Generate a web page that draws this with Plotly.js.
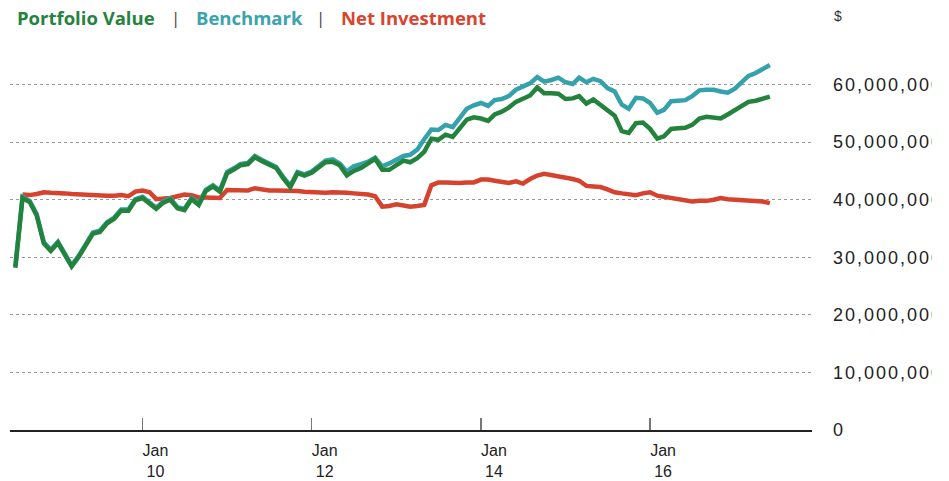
<!DOCTYPE html>
<html>
<head>
<meta charset="utf-8">
<script src="https://cdn.plot.ly/plotly-3.0.1.min.js"></script>
<style>
  html, body { margin: 0; padding: 0; background: #fff; }
  #clip { width: 932px; height: 481px; overflow: hidden; }
  #chart { width: 949px; height: 481px; }
  .ytick text { letter-spacing: 2px; }
</style>
</head>
<body>
<div id="clip"><div id="chart"></div></div>
<script>
// Monthly observations, July 2008 – June 2017 (values in millions of $)
const startYear = 2008, startMonth = 7, nMonths = 108;
const months = [];
for (let i = 0; i < nMonths; i++) {
  const m0 = startMonth - 1 + i;
  const y = startYear + Math.floor(m0 / 12);
  const m = (m0 % 12) + 1;
  months.push(y + '-' + String(m).padStart(2, '0') + '-01');
}

const portfolioValue = [
  28.2,40.3,39.6,37.3,32.4,31.1,32.5,30.5,28.4,30.1,
  32.2,34.1,34.4,35.9,36.7,38.1,38.1,39.9,40.3,39.4,
  38.4,39.5,40.0,38.5,38.2,40.1,39.1,41.5,42.3,41.4,
  44.6,45.3,46.0,46.2,47.4,46.7,46.1,45.5,43.7,42.2,
  44.6,44.2,44.7,45.6,46.5,46.6,46.0,44.2,45.0,45.5,
  46.2,47.1,45.2,45.2,46.0,46.8,46.5,47.2,48.3,50.6,
  50.4,51.3,50.9,52.4,53.9,54.3,54.1,53.7,54.8,55.3,
  56.0,57.0,57.6,58.1,59.5,58.5,58.5,58.4,57.5,57.6,
  58.0,56.7,57.4,56.4,55.5,54.6,51.9,51.6,53.3,53.4,
  52.3,50.6,51.0,52.3,52.4,52.5,53.0,54.1,54.4,54.2,
  54.1,54.8,55.5,56.3,57.0,57.2,57.5,57.9
];

const benchmark = [
  28.4,40.5,39.8,37.5,32.6,31.3,32.7,30.7,28.6,30.3,
  32.4,34.3,34.6,36.1,36.9,38.3,38.3,40.1,40.5,39.6,
  38.6,39.7,40.2,38.7,38.4,40.3,39.3,41.7,42.5,41.6,
  44.8,45.5,46.2,46.4,47.6,46.9,46.3,45.7,43.9,42.4,
  44.8,44.4,44.9,45.8,46.8,47.0,46.3,44.9,45.8,46.2,
  46.6,47.3,45.8,46.3,47.0,47.6,47.8,48.7,50.5,52.2,
  52.1,53.0,52.6,54.2,55.8,56.4,56.8,56.3,57.3,57.5,
  58.0,59.1,59.7,60.2,61.3,60.5,60.8,61.2,60.4,60.1,
  61.2,60.4,61.0,60.6,59.4,58.8,56.5,55.8,57.7,57.6,
  56.8,55.1,55.6,57.1,57.2,57.3,58.0,59.0,59.1,59.1,
  58.8,58.6,59.3,60.4,61.5,62.0,62.7,63.4
];

const netInvestment = [
  null,40.9,40.8,41.0,41.3,41.2,41.2,41.1,41.0,40.9,
  40.8,40.7,40.8,40.7,40.7,40.8,40.6,41.4,41.6,41.3,
  40.1,40.2,40.3,40.6,40.9,40.8,40.4,40.4,40.3,40.3,
  41.7,41.7,41.7,41.6,42.0,41.7,41.6,41.6,41.6,41.6,
  41.5,41.4,41.3,41.2,41.2,41.3,41.3,41.2,41.1,41.0,
  40.9,40.6,38.8,38.9,39.2,39.0,38.8,38.9,39.1,42.5,
  43.0,43.0,42.9,42.9,43.0,43.0,43.5,43.5,43.3,43.0,
  42.9,43.2,42.8,43.6,44.2,44.5,44.3,44.1,43.9,43.6,
  43.3,42.4,42.3,42.2,41.8,41.3,41.1,40.9,40.8,41.1,
  41.3,40.7,40.5,40.4,40.1,39.9,39.7,39.8,39.8,40.0,
  40.3,40.1,40.0,40.0,39.9,39.8,39.7,39.4
];

const xTickVals = ['2010-01-01','2012-01-01','2014-01-01','2016-01-01'];
const xTickText = ['Jan<br>10','Jan<br>12','Jan<br>14','Jan<br>16'];
const yTickVals = [0,10,20,30,40,50,60];

const seriesNames = ['Portfolio Value','Benchmark','Net Investment'];
const colors = { pv: '#23833c', bm: '#35a1aa', ni: '#d5432e' };

const toDollars = a => a.map(v => v === null ? null : v * 1e6);

const traces = [
  { x: months, y: toDollars(netInvestment), name: seriesNames[2], type: 'scatter', mode: 'lines',
    line: { color: colors.ni, width: 4.5 }, hoverinfo: 'skip' },
  { x: months, y: toDollars(benchmark), name: seriesNames[1], type: 'scatter', mode: 'lines',
    line: { color: colors.bm, width: 4.5 }, hoverinfo: 'skip' },
  { x: months, y: toDollars(portfolioValue), name: seriesNames[0], type: 'scatter', mode: 'lines',
    line: { color: colors.pv, width: 4.5 }, hoverinfo: 'skip' }
];

const L = 10, R = 137, T = 27, B = 51, W = 949, H = 481;
const pw = W - L - R, ph = H - T - B;
const px = v => (v - L) / pw;
const py = v => (H - B - v) / ph;

const legendFont = { family: '"Open Sans", sans-serif', size: 18.5, weight: 700 };
const annotations = [
  { text: seriesNames[0], x: px(15), y: py(18), xanchor: 'left', yanchor: 'middle',
    font: Object.assign({ color: '#24843d' }, legendFont) },
  { text: '|', x: px(175), y: py(18), xanchor: 'center', yanchor: 'middle',
    font: { family: '"Open Sans", sans-serif', size: 17, color: '#444' } },
  { text: seriesNames[1], x: px(194), y: py(18), xanchor: 'left', yanchor: 'middle',
    font: Object.assign({ color: '#39a4ac' }, legendFont) },
  { text: '|', x: px(320), y: py(18), xanchor: 'center', yanchor: 'middle',
    font: { family: '"Open Sans", sans-serif', size: 17, color: '#444' } },
  { text: seriesNames[2], x: px(339), y: py(18), xanchor: 'left', yanchor: 'middle',
    font: Object.assign({ color: '#d8442f' }, legendFont) },
  { text: '$', x: px(832), y: py(16), xanchor: 'left', yanchor: 'middle',
    font: { family: '"Liberation Sans", Arial, sans-serif', size: 14, color: '#333' } }
].map(a => Object.assign({ xref: 'paper', yref: 'paper', showarrow: false }, a));

const layout = {
  width: W, height: H,
  margin: { l: L, r: R, t: T, b: B, pad: 0 },
  paper_bgcolor: '#fff', plot_bgcolor: '#fff',
  showlegend: false,
  font: { family: '"Liberation Sans", Arial, sans-serif', size: 17, color: '#222' },
  xaxis: {
    type: 'date',
    range: ['2008-06-08', '2017-11-30'],
    tickvals: xTickVals, ticktext: xTickText,
    ticks: 'inside', ticklen: 12, tickwidth: 1.5, tickcolor: '#777',
    ticklabelshift: 13, ticklabelstandoff: 5,
    showgrid: false, zeroline: false,
    showline: true, linecolor: '#222', linewidth: 1.5,
    tickfont: { size: 16, color: '#222' }
  },
  yaxis: {
    side: 'right',
    range: [0, 70e6],
    tickvals: yTickVals.map(v => v * 1e6),
    tickformat: ',d',
    ticks: '', ticklabelstandoff: 20,
    showgrid: true, gridcolor: '#9a9a9a', gridwidth: 1, griddash: 'dot',
    zeroline: false, showline: false,
    tickfont: { size: 18, color: '#222' }
  },
  annotations: annotations
};

Plotly.newPlot('chart', traces, layout, { displayModeBar: false, staticPlot: true });
</script>
</body>
</html>
